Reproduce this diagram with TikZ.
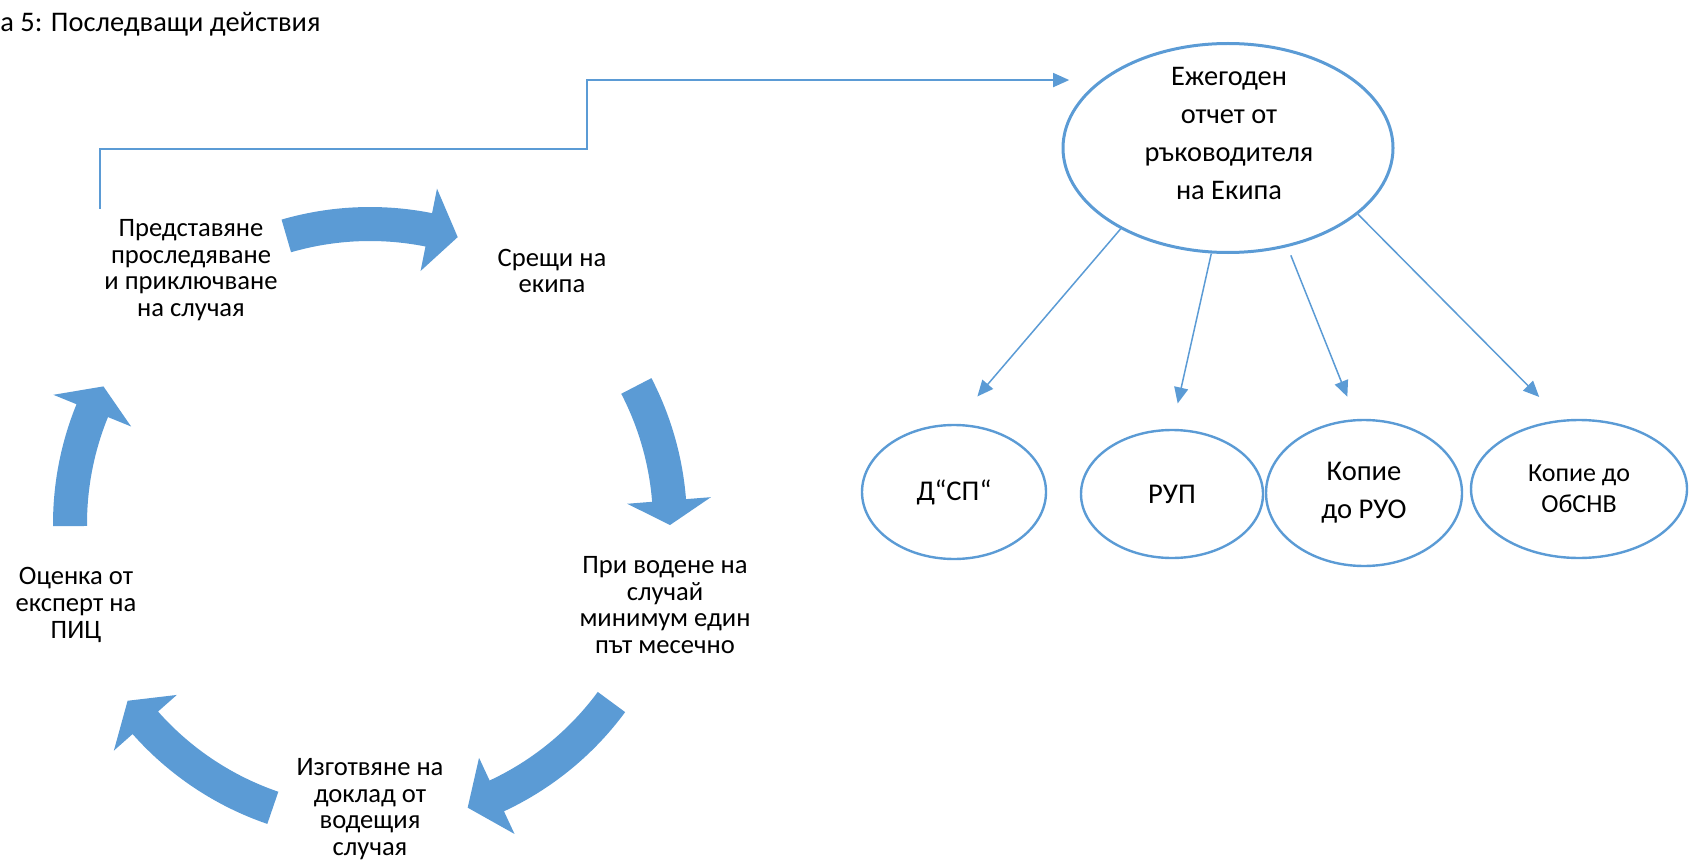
\documentclass[tikz,border=0pt]{standalone}
\usepackage{fontspec}
\setmainfont{Carlito}
\usetikzlibrary{arrows.meta,shapes.geometric}

\begin{document}
\begin{tikzpicture}[x=0.5pt, y=0.5pt,
    cyc/.style={align=center, inner sep=0pt, font=\fontsize{13.3}{13.3}\selectfont},
    oval/.style={draw=C0, shape=ellipse, line width=1.2pt, inner sep=0pt, align=center, font=\fontsize{14.3}{19}\selectfont},
    conn/.style={draw=C0, line width=0.75pt, -{Triangle[length=8pt, width=7pt]}}]
    \definecolor{C0}{HTML}{5B9BD5}

    \useasboundingbox (0,0) rectangle (1696,864);

    \node[anchor=base west, inner sep=0pt, font=\fontsize{14.2}{17}\selectfont] (title) at (0,832) {а 5: Последващи действия};

    % cycle
    \begin{scope}[shift={(370,340)}]
        \path[fill=C0] (106.2:317) arc[start angle=106.2, end angle=78.7, radius=317] -- (78.7:342) -- (73:300) -- (78.7:258) -- (78.7:283) arc[start angle=78.7, end angle=106.2, radius=283] -- cycle;
        \path[fill=C0] (27.4:317) arc[start angle=27.4, end angle=4.5, radius=317] -- (4.5:342) -- (-0.2:300) -- (4.5:258) -- (4.5:283) arc[start angle=4.5, end angle=27.4, radius=283] -- cycle;
        \path[fill=C0] (-36.4:317) arc[start angle=-36.4, end angle=-65, radius=317] -- (-65:342) -- (-71:300) -- (-65:258) -- (-65:283) arc[start angle=-65, end angle=-36.4, radius=283] -- cycle;
        \path[fill=C0] (-108.9:317) arc[start angle=-108.9, end angle=-138.5, radius=317] -- (-138.5:342) -- (-143.9:300) -- (-138.5:258) -- (-138.5:283) arc[start angle=-138.5, end angle=-108.9, radius=283] -- cycle;
        \path[fill=C0] (180.4:317) arc[start angle=180.4, end angle=157.8, radius=317] -- (157.8:342) -- (152.7:300) -- (157.8:258) -- (157.8:283) arc[start angle=157.8, end angle=180.4, radius=283] -- cycle;
    \end{scope}

    \node[cyc] (present) at (191,594) {Представяне\\проследяване\\и приключване\\на случая};
    \node[cyc] (meet) at (552,593) {Срещи на\\екипа};
    \node[cyc] (lead) at (665,259) {При водене на\\случай\\минимум един\\път месечно};
    \node[cyc] (draft) at (370,55) {Изготвяне на\\доклад от\\водещия\\случая};
    \node[cyc] (expert) at (76,259) {Оценка от\\експерт на\\ПИЦ};

    % report and recipients
    \node[oval, line width=1.5pt, minimum width=165pt, minimum height=104.5pt] (annual) at (1228,716) {};
    \node[align=center, inner sep=0pt, font=\fontsize{14.2}{19}\selectfont] (annualtext) at (1229,731) {Ежегоден\\отчет от\\ръководителя\\на Екипа};

    \node[oval, minimum width=92pt, minimum height=67pt] (dsp) at (954,372) {Д“СП“};
    \node[oval, minimum width=91pt, minimum height=64pt] (rup) at (1172,370) {РУП};
    \node[oval, minimum width=98pt, minimum height=73pt] (ruo) at (1364,371) {Копие\\до РУО};
    \node[oval, minimum width=108pt, minimum height=69pt, font=\fontsize{13}{15.5}\selectfont] (obsnv) at (1579,375) {Копие до\\ОбСНВ};

    \path[conn, shorten >=18pt] (annual.217.6) -- (dsp.north);
    \path[conn, shorten >=13pt] (annual.261.3) -- (rup.north);
    \path[conn, shorten >=12pt, shorten <=4.5pt] (annual.301.4) -- (ruo.96);
    \path[conn, shorten >=16pt] (annual.333.3) -- (obsnv.104);

    \coordinate (fb) at (100,655);
    \coordinate (bend) at (587,715);
    \path[conn, shorten >=15.5pt] (fb) |- (bend) |- (annual.152.2);

\end{tikzpicture}
\end{document}
